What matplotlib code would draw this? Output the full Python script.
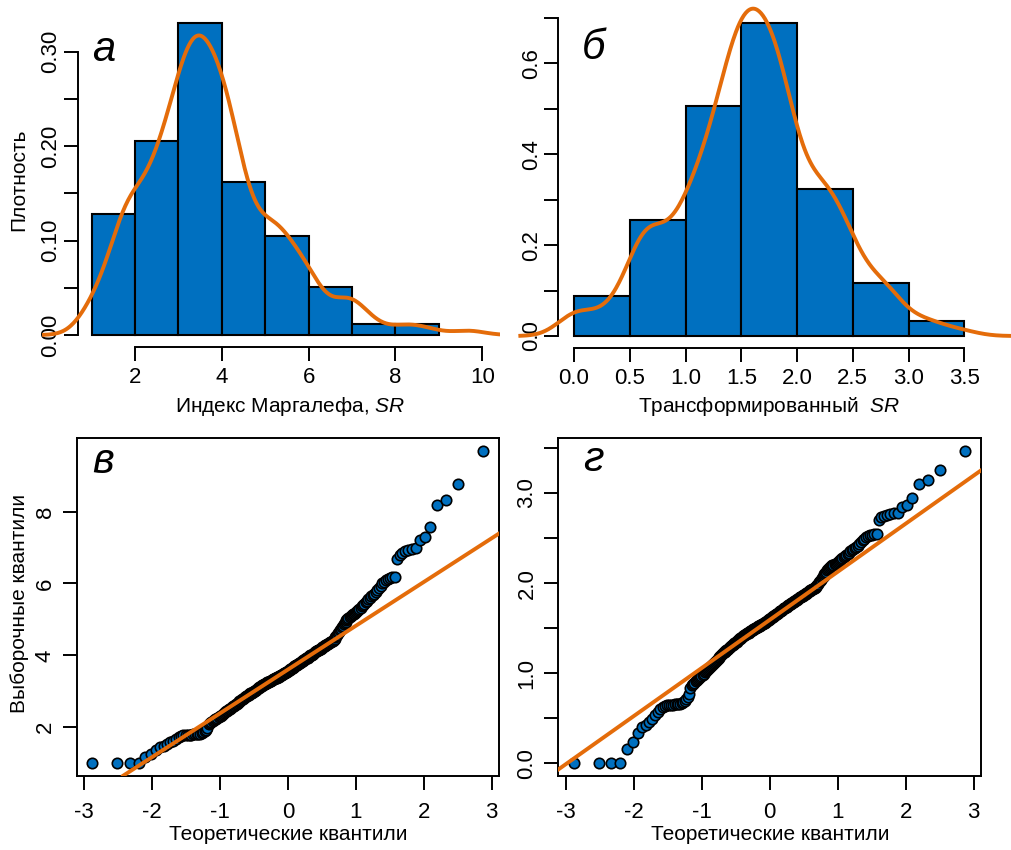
import numpy as np
import matplotlib
matplotlib.use('Agg')
import matplotlib.pyplot as plt
from statistics import NormalDist

plt.rcParams['font.family'] = ['Liberation Sans', 'DejaVu Sans']
plt.rcParams['mathtext.fontset'] = 'custom'
plt.rcParams['mathtext.rm'] = 'Liberation Sans'
plt.rcParams['mathtext.it'] = 'Liberation Sans:italic'

W, H = 1011, 850

# Margalef index SR, sorted sample (n = 250)
sr_values = [
    1.00, 1.00, 1.00, 1.00, 1.17, 1.25, 1.38, 1.45, 1.49, 1.53,
    1.58, 1.63, 1.68, 1.73, 1.76, 1.78, 1.79, 1.79, 1.79, 1.79,
    1.80, 1.80, 1.80, 1.81, 1.82, 1.84, 1.86, 1.89, 1.93, 1.98,
    2.08, 2.13, 2.16, 2.18, 2.20, 2.22, 2.24, 2.26, 2.28, 2.30,
    2.32, 2.35, 2.37, 2.40, 2.42, 2.44, 2.46, 2.48, 2.50, 2.52,
    2.54, 2.56, 2.58, 2.60, 2.62, 2.64, 2.66, 2.68, 2.70, 2.72,
    2.74, 2.76, 2.78, 2.79, 2.81, 2.83, 2.84, 2.86, 2.87, 2.89,
    2.90, 2.92, 2.94, 2.95, 2.96, 2.98, 2.99, 3.01, 3.02, 3.04,
    3.05, 3.07, 3.08, 3.10, 3.11, 3.12, 3.14, 3.15, 3.17, 3.18,
    3.19, 3.20, 3.21, 3.22, 3.23, 3.25, 3.26, 3.27, 3.28, 3.29,
    3.30, 3.31, 3.32, 3.33, 3.34, 3.35, 3.36, 3.37, 3.38, 3.39,
    3.40, 3.41, 3.42, 3.43, 3.44, 3.45, 3.46, 3.47, 3.48, 3.50,
    3.51, 3.52, 3.53, 3.55, 3.56, 3.57, 3.58, 3.60, 3.61, 3.62,
    3.64, 3.65, 3.66, 3.68, 3.69, 3.70, 3.72, 3.73, 3.74, 3.76,
    3.77, 3.78, 3.80, 3.81, 3.82, 3.84, 3.85, 3.86, 3.88, 3.89,
    3.90, 3.92, 3.93, 3.94, 3.96, 3.97, 3.98, 4.00, 4.01, 4.02,
    4.04, 4.05, 4.07, 4.08, 4.09, 4.11, 4.12, 4.14, 4.15, 4.16,
    4.18, 4.19, 4.21, 4.22, 4.24, 4.25, 4.26, 4.28, 4.29, 4.31,
    4.32, 4.34, 4.35, 4.37, 4.38, 4.40, 4.41, 4.43, 4.46, 4.50,
    4.54, 4.58, 4.62, 4.66, 4.70, 4.74, 4.78, 4.82, 4.86, 4.90,
    4.94, 4.98, 5.01, 5.04, 5.07, 5.10, 5.12, 5.14, 5.16, 5.18,
    5.21, 5.24, 5.27, 5.30, 5.33, 5.37, 5.41, 5.44, 5.48, 5.52,
    5.56, 5.60, 5.64, 5.68, 5.72, 5.76, 5.82, 5.88, 5.94, 6.00,
    6.05, 6.09, 6.12, 6.15, 6.17, 6.19, 6.68, 6.80, 6.86, 6.90,
    6.93, 6.95, 6.98, 7.20, 7.29, 7.58, 8.17, 8.33, 8.77, 9.69,
]
boxcox_lambda = 0.35

# histogram densities as drawn
sr_breaks = [1, 2, 3, 4, 5, 6, 7, 8, 9]
sr_density = [0.128, 0.205, 0.330, 0.162, 0.105, 0.051, 0.012, 0.012]
tr_breaks = [0.0, 0.5, 1.0, 1.5, 2.0, 2.5, 3.0, 3.5]
tr_density = [0.088, 0.255, 0.505, 0.688, 0.323, 0.117, 0.033]

BLUE = '#0070C0'
ORANGE = '#E46C0A'
TICK_FS = 16
LAB_FS = 15


def px_axes(fig, left, top, right, bottom):
    return fig.add_axes([left / W, 1 - bottom / H, (right - left) / W, (bottom - top) / H])


def fig_text(fig, x, y, s, **kw):
    fig.text(x / W, 1 - y / H, s, ha='center', va='center', **kw)


def kde(x, n=512):
    """Gaussian density like R's density() with bw.nrd0, cut = 3"""
    x = np.asarray(x, dtype=float)
    q75, q25 = np.percentile(x, [75, 25])
    bw = 0.9 * min(x.std(ddof=1), (q75 - q25) / 1.34) * len(x) ** -0.2
    grid = np.linspace(x.min() - 3 * bw, x.max() + 3 * bw, n)
    z = (grid[:, None] - x[None, :]) / bw
    y = np.exp(-0.5 * z ** 2).sum(axis=1) / (len(x) * bw * np.sqrt(2 * np.pi))
    return grid, y


def style_ticks(ax, pad_x, pad_y):
    ax.tick_params(axis='both', direction='out', length=10, width=1.4,
                   labelsize=TICK_FS, color='black')
    ax.tick_params(axis='x', pad=pad_x)
    ax.tick_params(axis='y', pad=pad_y, labelrotation=90)
    for lab in ax.get_yticklabels():
        lab.set_va('center')


def hist_panel(ax, breaks, dens, values, ytick_vals, ytick_labels, xticks, xlabels, yaxis_x, xaxis_y):
    widths = np.diff(breaks)
    ax.bar(breaks[:-1], dens, width=widths, align='edge', color=BLUE,
           edgecolor='black', linewidth=1.5, zorder=2)
    gx, gy = kde(values)
    ax.plot(gx, gy, color=ORANGE, linewidth=2.8, zorder=3)
    for side in ['top', 'right']:
        ax.spines[side].set_visible(False)
    ax.spines['left'].set_position(('data', yaxis_x))
    ax.spines['left'].set_bounds(ytick_vals[0], ytick_vals[-1])
    ax.spines['bottom'].set_position(('data', xaxis_y))
    ax.spines['bottom'].set_bounds(xticks[0], xticks[-1])
    for side in ['left', 'bottom']:
        ax.spines[side].set_linewidth(1.4)
    ax.set_yticks(ytick_vals)
    ax.set_yticklabels(ytick_labels)
    ax.set_xticks(xticks)
    ax.set_xticklabels(xlabels)
    ax.patch.set_alpha(0)
    style_ticks(ax, 4, 2)


def qq_panel(ax, values, yticks, ylabels):
    values = np.sort(np.asarray(values, dtype=float))
    n = len(values)
    nd = NormalDist()
    theo = np.array([nd.inv_cdf((i - 0.5) / n) for i in range(1, n + 1)])
    q1, q3 = np.percentile(values, [25, 75])
    z1, z3 = nd.inv_cdf(0.25), nd.inv_cdf(0.75)
    slope = (q3 - q1) / (z3 - z1)
    inter = q1 - slope * z1
    ax.plot(theo, values, 'o', markersize=7.5, markerfacecolor=BLUE,
            markeredgecolor='black', markeredgewidth=1.2, zorder=2)
    ax.axline((0, inter), slope=slope, color=ORANGE, linewidth=2.8, zorder=3)
    xr = theo.max() - theo.min()
    yr = values.max() - values.min()
    ax.set_xlim(theo.min() - 0.04 * xr, theo.max() + 0.04 * xr)
    ax.set_ylim(values.min() - 0.04 * yr, values.max() + 0.04 * yr)
    for side in ax.spines:
        ax.spines[side].set_linewidth(1.4)
    ax.set_xticks([-3, -2, -1, 0, 1, 2, 3])
    ax.set_xticklabels(['-3', '-2', '-1', '0', '1', '2', '3'])
    ax.set_yticks(yticks)
    ax.set_yticklabels(ylabels)
    style_ticks(ax, 9, 5)


sr = np.array(sr_values)
sr_tr = (sr ** boxcox_lambda - 1) / boxcox_lambda

fig = plt.figure(figsize=(W / 100, H / 100), dpi=100)

# а: histogram of SR
ax_a = px_axes(fig, 40, 10, 500, 350)
ax_a.set_xlim((40 - 48.2) / 43.4, (500 - 48.2) / 43.4)
ax_a.set_ylim((335 - 350) / 944, (335 - 10) / 944)
hist_panel(ax_a, sr_breaks, sr_density, sr,
           [0, 0.05, 0.10, 0.15, 0.20, 0.25, 0.30],
           ['0.00', '', '0.10', '', '0.20', '', '0.30'],
           [2, 4, 6, 8, 10], ['2', '4', '6', '8', '10'],
           0.68, -0.0132)

# б: histogram of transformed SR
ax_b = px_axes(fig, 500, 5, 1011, 350)
ax_b.set_xlim((500 - 574) / 111.5, (1011 - 574) / 111.5)
ax_b.set_ylim((336 - 350) / 454.5, (336 - 5) / 454.5)
hist_panel(ax_b, tr_breaks, tr_density, sr_tr,
           [0, 0.1, 0.2, 0.3, 0.4, 0.5, 0.6, 0.7],
           ['0.0', '', '0.2', '', '0.4', '', '0.6', ''],
           tr_breaks, ['0.0', '0.5', '1.0', '1.5', '2.0', '2.5', '3.0', '3.5'],
           -0.14, -0.0275)

# в: Q-Q plot of SR
ax_c = px_axes(fig, 76.7, 438.3, 499, 775.7)
qq_panel(ax_c, sr, [2, 4, 6, 8], ['2', '4', '6', '8'])

# г: Q-Q plot of transformed SR
ax_d = px_axes(fig, 558.3, 438.3, 981, 775.7)
qq_panel(ax_d, sr_tr, [0, 0.5, 1.0, 1.5, 2.0, 2.5, 3.0, 3.5],
         ['0.0', '', '1.0', '', '2.0', '', '3.0', ''])

# axis titles
fig_text(fig, 19, 180, 'Плотность', rotation=90, fontsize=LAB_FS)
fig_text(fig, 290, 406, 'Индекс Маргалефа, $\\mathit{SR}$', fontsize=LAB_FS)
fig_text(fig, 769, 406, 'Трансформированный  $\\mathit{SR}$', fontsize=LAB_FS)
fig_text(fig, 20, 603, 'Выборочные квантили', rotation=90, fontsize=LAB_FS)
fig_text(fig, 288, 834, 'Теоретические квантили', fontsize=LAB_FS)
fig_text(fig, 770, 834, 'Теоретические квантили', fontsize=LAB_FS)

# panel letters
for x, y, s in [(104, 50, 'а'), (594, 48, 'б'), (103, 462, 'в'), (593, 460, 'г')]:
    fig_text(fig, x, y, s, fontsize=30, style='italic')

fig.savefig('out.png', dpi=100)
